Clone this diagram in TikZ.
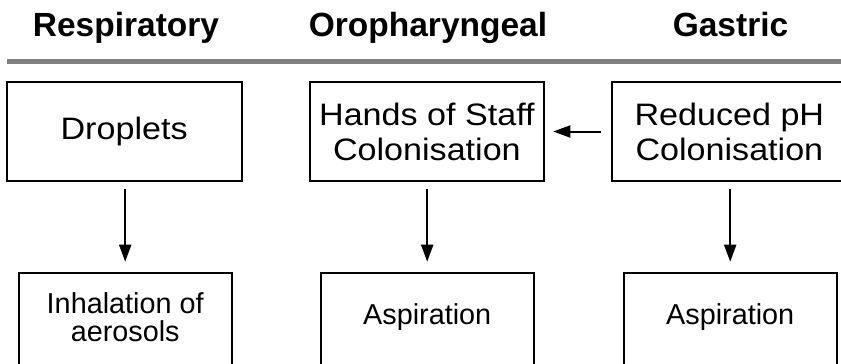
\documentclass[tikz,border=0pt]{standalone}
\usepackage{fontspec}
\setmainfont{Liberation Sans}
\newfontfamily\boxfont{Liberation Sans}[FakeStretch=1.1]
\usetikzlibrary{arrows.meta}
\definecolor{rulegray}{RGB}{128,128,128}
\begin{document}
\begin{tikzpicture}[x=1pt,y=-1pt,
  head/.style={anchor=base, inner sep=0, font=\fontsize{33.5}{40}\selectfont\bfseries},
  topbox/.style={draw, line width=2pt, outer sep=0, minimum width=234.8pt, minimum height=99pt,
    anchor=north west, inner sep=0, align=center, font=\boxfont\fontsize{31}{35}\selectfont},
  botbox/.style={draw, line width=2pt, outer sep=0, minimum width=212.8pt, minimum height=100pt,
    anchor=north west, inner sep=0},
  bottext/.style={align=center, inner sep=0, font=\fontsize{28.8}{28.5}\selectfont},
  flow/.style={line width=2pt, -{Triangle[length=17pt,width=12pt]}}
]
\useasboundingbox (0,0) rectangle (841,364);
\clip (0,0) rectangle (841,364);
% headings
\node[head] (h1) at (126,36.7) {Respiratory};
\node[head] (h2) at (428,36.7) {Oropharyngeal};
\node[head] (h3) at (730.5,36.7) {Gastric};
% rule
\draw[rulegray, line width=5pt] (7,61.5) -- (845,61.5);
% top boxes
\node[topbox] (d) at (6.7,82) {Droplets};
\node[topbox] (h) at (309.5,82) {Hands of Staff\\Colonisation};
\node[topbox] (r) at (612,82) {Reduced pH\\Colonisation};
% bottom boxes
\node[botbox] (i) at (18.8,273.3) {};
\node[botbox] (a1) at (320.8,273.3) {};
\node[botbox] (a2) at (623.8,273.3) {};
\node[bottext] (it) at ([yshift=-44pt]i.north) {Inhalation of\\aerosols};
\node[bottext] (a1t) at ([yshift=-44pt]a1.north) {Aspiration};
\node[bottext] (a2t) at ([yshift=-44pt]a2.north) {Aspiration};
% connectors
\draw[flow, shorten <=8.3pt, shorten >=11.6pt] (i.north |- d.south) -- (i.north);
\draw[flow, shorten <=8.3pt, shorten >=11.6pt] (a1.north |- h.south) -- (a1.north);
\draw[flow, shorten <=8.3pt, shorten >=11.6pt] (a2.north |- r.south) -- (a2.north);
\draw[flow, shorten <=11.3pt, shorten >=9pt] (r.west) -- (h.east);
\end{tikzpicture}
\end{document}
